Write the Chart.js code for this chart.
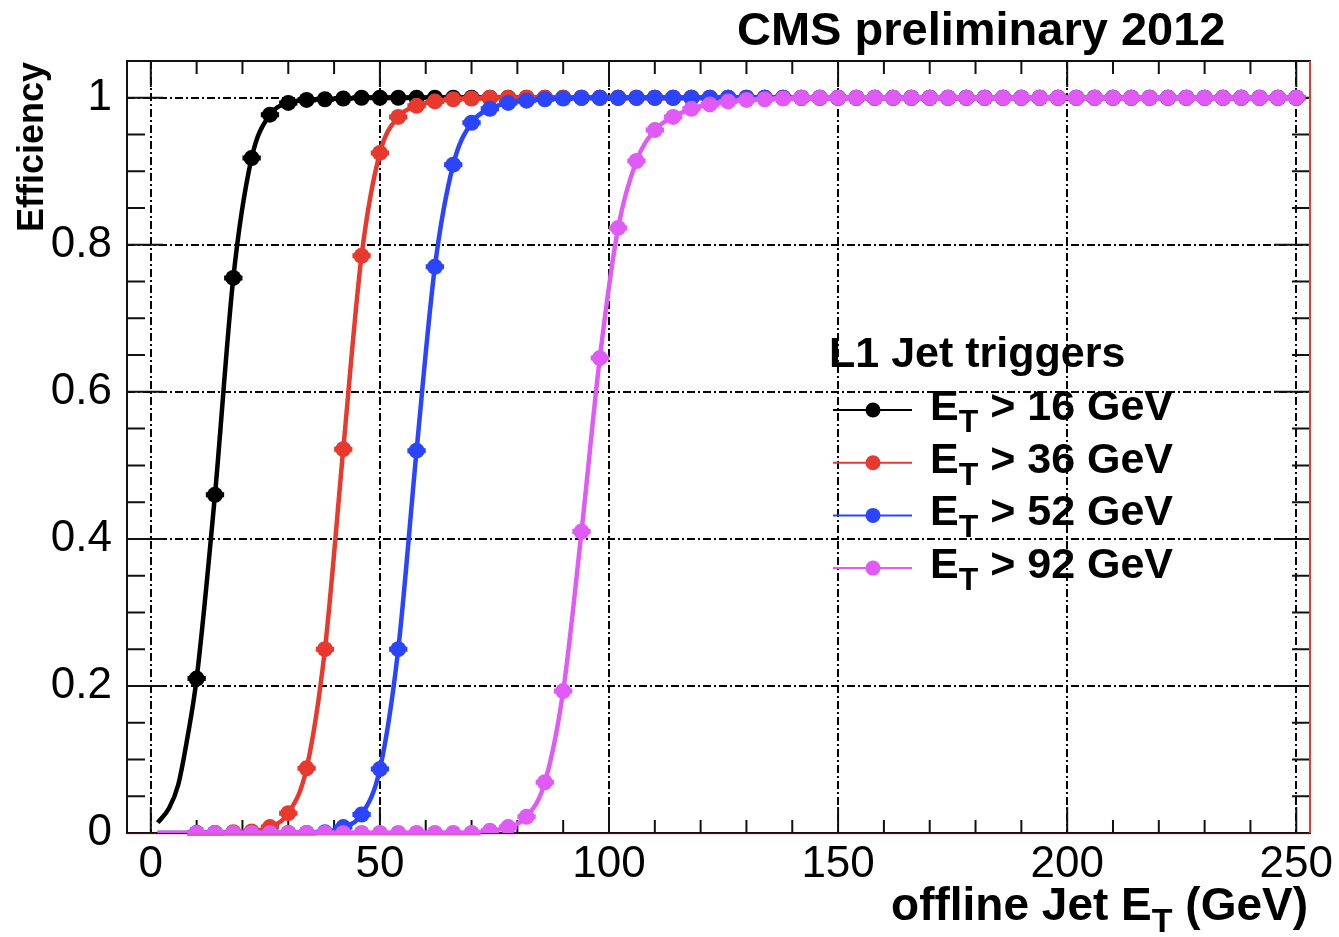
<!DOCTYPE html>
<html>
<head>
<meta charset="utf-8">
<title>L1 Jet trigger efficiency</title>
<script src="https://cdn.jsdelivr.net/npm/chart.js@4.4.1/dist/chart.umd.min.js"></script>
<style>
  html, body { margin: 0; padding: 0; background: #fff; }
  #wrap { width: 1339px; height: 937px; position: relative; }
</style>
</head>
<body>
<div id="wrap"><canvas id="eff-canvas"></canvas></div>
<script>
// bin centres of offline jet ET (GeV)
const jetEt = [10, 14, 18, 22, 26, 30, 34, 38, 42, 46,
               50, 54, 58, 62, 66, 70, 74, 78, 82, 86,
               90, 94, 98, 102, 106, 110, 114, 118, 122, 126,
               130, 134, 138, 142, 146, 150, 154, 158, 162, 166,
               170, 174, 178, 182, 186, 190, 194, 198, 202, 206,
               210, 214, 218, 222, 226, 230, 234, 238, 242, 246,
               250];

// efficiency per L1 threshold
const eff16 = [0.21, 0.46, 0.755, 0.918, 0.977, 0.993, 0.997, 0.998, 0.999, 1,
               1, 1, 1, 1, 1, 1, 1, 1, 1, 1,
               1, 1, 1, 1, 1, 1, 1, 1, 1, 1,
               1, 1, 1, 1, 1, 1, 1, 1, 1, 1,
               1, 1, 1, 1, 1, 1, 1, 1, 1, 1,
               1, 1, 1, 1, 1, 1, 1, 1, 1, 1,
               1];
const eff36 = [0, 0, 0.001, 0.002, 0.008, 0.027, 0.088, 0.25, 0.522, 0.785,
               0.925, 0.974, 0.989, 0.995, 0.998, 0.999, 1, 1, 1, 1,
               1, 1, 1, 1, 1, 1, 1, 1, 1, 1,
               1, 1, 1, 1, 1, 1, 1, 1, 1, 1,
               1, 1, 1, 1, 1, 1, 1, 1, 1, 1,
               1, 1, 1, 1, 1, 1, 1, 1, 1, 1,
               1];
const eff52 = [0, 0, 0, 0, 0, 0, 0, 0.001, 0.008, 0.025,
               0.087, 0.25, 0.52, 0.77, 0.909, 0.966, 0.985, 0.993, 0.996, 0.998,
               0.999, 1, 1, 1, 1, 1, 1, 1, 1, 1,
               1, 1, 1, 1, 1, 1, 1, 1, 1, 1,
               1, 1, 1, 1, 1, 1, 1, 1, 1, 1,
               1, 1, 1, 1, 1, 1, 1, 1, 1, 1,
               1];
const eff92 = [0, 0, 0, 0, 0, 0, 0, 0, 0, 0,
               0, 0, 0, 0, 0, 0, 0.003, 0.008, 0.022, 0.069,
               0.193, 0.41, 0.646, 0.823, 0.914, 0.956, 0.974, 0.985, 0.991, 0.995,
               0.997, 0.998, 0.999, 1, 1, 1, 1, 1, 1, 1,
               1, 1, 1, 1, 1, 1, 1, 1, 1, 1,
               1, 1, 1, 1, 1, 1, 1, 1, 1, 1,
               1];

// start of the fit curves below the first bin
const headEt = [1.5, 4, 6, 8];
const head16 = [0.014, 0.034, 0.066, 0.13];
const head36 = [0, 0, 0, 0];
const head52 = [0, 0, 0, 0];
const head92 = [0, 0, 0, 0];

const thresholds = ['16', '36', '52', '92'];
const colors = ['#000000', '#e8392e', '#2b45ff', '#e05af5'];

const xTickValues = [0, 10, 20, 30, 40, 50, 60, 70, 80, 90, 100, 110, 120, 130, 140,
                     150, 160, 170, 180, 190, 200, 210, 220, 230, 240, 250];
const yTickValues = [0, 0.05, 0.1, 0.15, 0.2, 0.25, 0.3, 0.35, 0.4, 0.45, 0.5,
                     0.55, 0.6, 0.65, 0.7, 0.75, 0.8, 0.85, 0.9, 0.95, 1];

const FONT = '"Liberation Sans", Arial, Helvetica, sans-serif';

function isMajor(v, step) {
    const r = v / step;
    return Math.abs(r - Math.round(r)) < 1e-6;
}

function toPoints(xs, ys) {
    return xs.map((x, i) => ({ x: x, y: ys[i] }));
}

const effSeries = [eff16, eff36, eff52, eff92];
const headSeries = [head16, head36, head52, head92];

const datasets = [];
effSeries.forEach((eff, i) => {
    const rank = (effSeries.length - 1 - i) * 2; // later thresholds drawn on top
    datasets.push({
        label: 'fit ' + thresholds[i],
        data: toPoints(headEt.concat(jetEt), headSeries[i].concat(eff)),
        showLine: true,
        borderColor: colors[i],
        borderWidth: 4.5,
        pointRadius: 0,
        cubicInterpolationMode: 'monotone',
        order: rank + 1
    });
    datasets.push({
        label: 'ET > ' + thresholds[i] + ' GeV',
        data: toPoints(jetEt, eff),
        showLine: false,
        pointRadius: 8,
        pointStyle: 'circle',
        pointBackgroundColor: colors[i],
        pointBorderWidth: 0,
        errX: 2,
        markerColor: colors[i],
        order: rank
    });
});

// horizontal error bars (bin half width)
const errorBars = {
    id: 'errorBars',
    afterDatasetDraw(chart, args) {
        const ds = chart.data.datasets[args.index];
        if (!ds.errX) return;
        const { ctx, scales: { x, y } } = chart;
        ctx.save();
        ctx.strokeStyle = ds.markerColor;
        ctx.lineWidth = 5;
        ctx.beginPath();
        ds.data.forEach(p => {
            const py = y.getPixelForValue(p.y);
            ctx.moveTo(x.getPixelForValue(p.x - ds.errX), py);
            ctx.lineTo(x.getPixelForValue(p.x + ds.errX), py);
        });
        ctx.stroke();
        ctx.restore();
    }
};

// ROOT style frame with inner ticks
const rootFrame = {
    id: 'rootFrame',
    beforeDatasetsDraw(chart) {
        const { ctx, chartArea: a, scales: { x, y } } = chart;
        ctx.save();
        ctx.strokeStyle = '#111';
        ctx.lineWidth = 2;
        ctx.beginPath();
        xTickValues.forEach(v => {
            const px = x.getPixelForValue(v);
            const len = isMajor(v, 50) ? 26 : 13;
            ctx.moveTo(px, a.bottom); ctx.lineTo(px, a.bottom - len);
            ctx.moveTo(px, a.top); ctx.lineTo(px, a.top + len);
        });
        yTickValues.forEach(v => {
            if (v === 0) return;
            const py = y.getPixelForValue(v);
            const len = isMajor(v, 0.2) ? 36 : 18;
            ctx.moveTo(a.left, py); ctx.lineTo(a.left + len, py);
            ctx.moveTo(a.right, py); ctx.lineTo(a.right - len, py);
        });
        ctx.stroke();
        ctx.strokeRect(a.left, a.top, a.right - a.left, a.bottom - a.top);
        ctx.restore();
    },
    afterDraw(chart) {
        const { ctx, chartArea: a } = chart;
        ctx.save();
        ctx.strokeStyle = '#e8392e';
        ctx.lineWidth = 2;
        ctx.beginPath();
        ctx.moveTo(a.right, a.top); ctx.lineTo(a.right, a.bottom);
        ctx.stroke();
        ctx.strokeStyle = 'rgba(232,57,46,0.35)';
        ctx.lineWidth = 1;
        ctx.beginPath();
        ctx.moveTo(a.left, a.bottom + 1); ctx.lineTo(a.right, a.bottom + 1);
        ctx.stroke();
        ctx.restore();
    }
};

// text with a subscript: parts = [[text, size, dy], ...]
function drawParts(ctx, parts, x, y, alignRight) {
    let total = 0;
    parts.forEach(p => {
        ctx.font = 'bold ' + p[1] + 'px ' + FONT;
        total += ctx.measureText(p[0]).width;
    });
    let cx = alignRight ? x - total : x;
    parts.forEach(p => {
        ctx.font = 'bold ' + p[1] + 'px ' + FONT;
        ctx.fillText(p[0], cx, y + p[2]);
        cx += ctx.measureText(p[0]).width;
    });
}

const labelsAndLegend = {
    id: 'labelsAndLegend',
    afterDraw(chart) {
        const ctx = chart.ctx;
        ctx.save();
        ctx.fillStyle = '#000';
        ctx.textBaseline = 'alphabetic';
        ctx.textAlign = 'left';

        ctx.font = 'bold 47px ' + FONT;
        ctx.fillText('CMS preliminary 2012', 737, 45);

        drawParts(ctx, [['offline Jet E', 46, 0], ['T', 34, 12], [' (GeV)', 46, 0]], 1308, 920, true);

        ctx.save();
        ctx.translate(43, 62);
        ctx.rotate(-Math.PI / 2);
        ctx.textAlign = 'right';
        ctx.font = 'bold 36px ' + FONT;
        ctx.fillText('Efficiency', 0, 0);
        ctx.restore();

        // legend
        ctx.font = 'bold 43px ' + FONT;
        ctx.fillText('L1 Jet triggers', 829, 367);
        thresholds.forEach((t, i) => {
            const base = 420 + i * 52.7;
            const ly = base - 10;
            ctx.strokeStyle = colors[i];
            ctx.lineWidth = 2;
            ctx.beginPath();
            ctx.moveTo(833, ly); ctx.lineTo(912, ly);
            ctx.stroke();
            ctx.fillStyle = colors[i];
            ctx.beginPath();
            ctx.arc(873, ly, 7.5, 0, Math.PI * 2);
            ctx.fill();
            ctx.fillStyle = '#000';
            drawParts(ctx, [['E', 43, 0], ['T', 32, 12], [' > ' + t + ' GeV', 43, 0]], 930, base, false);
        });
        ctx.restore();
    }
};

const ctx = document.getElementById('eff-canvas').getContext('2d');
const effChart = new Chart(ctx, {
    type: 'scatter',
    data: { datasets: datasets },
    options: {
        responsive: true,
        maintainAspectRatio: false,
        animation: false,
        layout: { padding: { left: 0, top: 61, right: 29, bottom: 0 } },
        plugins: {
            legend: { display: false },
            tooltip: { enabled: false },
            title: { display: false }
        },
        scales: {
            x: {
                type: 'linear',
                min: -5.2,
                max: 253,
                afterBuildTicks: s => { s.ticks = xTickValues.map(v => ({ value: v })); },
                afterFit: s => { s.height = 104; },
                grid: {
                    drawTicks: false,
                    lineWidth: 2,
                    color: c => (c.tick && isMajor(c.tick.value, 50)) ? '#000' : 'rgba(0,0,0,0)'
                },
                border: { display: false, dash: [8, 3, 2, 3] },
                ticks: {
                    autoSkip: false,
                    maxRotation: 0,
                    padding: 5,
                    color: '#000',
                    font: { family: FONT, size: 44 },
                    callback: v => isMajor(v, 50) ? String(v) : ''
                }
            },
            y: {
                type: 'linear',
                min: 0,
                max: 1.05,
                afterBuildTicks: s => { s.ticks = yTickValues.map(v => ({ value: v })); },
                afterFit: s => { s.width = 127; },
                grid: {
                    drawTicks: false,
                    lineWidth: 2,
                    color: c => (c.tick && isMajor(c.tick.value, 0.2)) ? '#000' : 'rgba(0,0,0,0)'
                },
                border: { display: false, dash: [8, 3, 2, 3] },
                ticks: {
                    autoSkip: false,
                    padding: 15,
                    color: '#000',
                    font: { family: FONT, size: 44 },
                    callback: v => isMajor(v, 0.2) ? String(Math.round(v * 10) / 10) : ''
                }
            }
        }
    },
    plugins: [rootFrame, errorBars, labelsAndLegend]
});
</script>
</body>
</html>
